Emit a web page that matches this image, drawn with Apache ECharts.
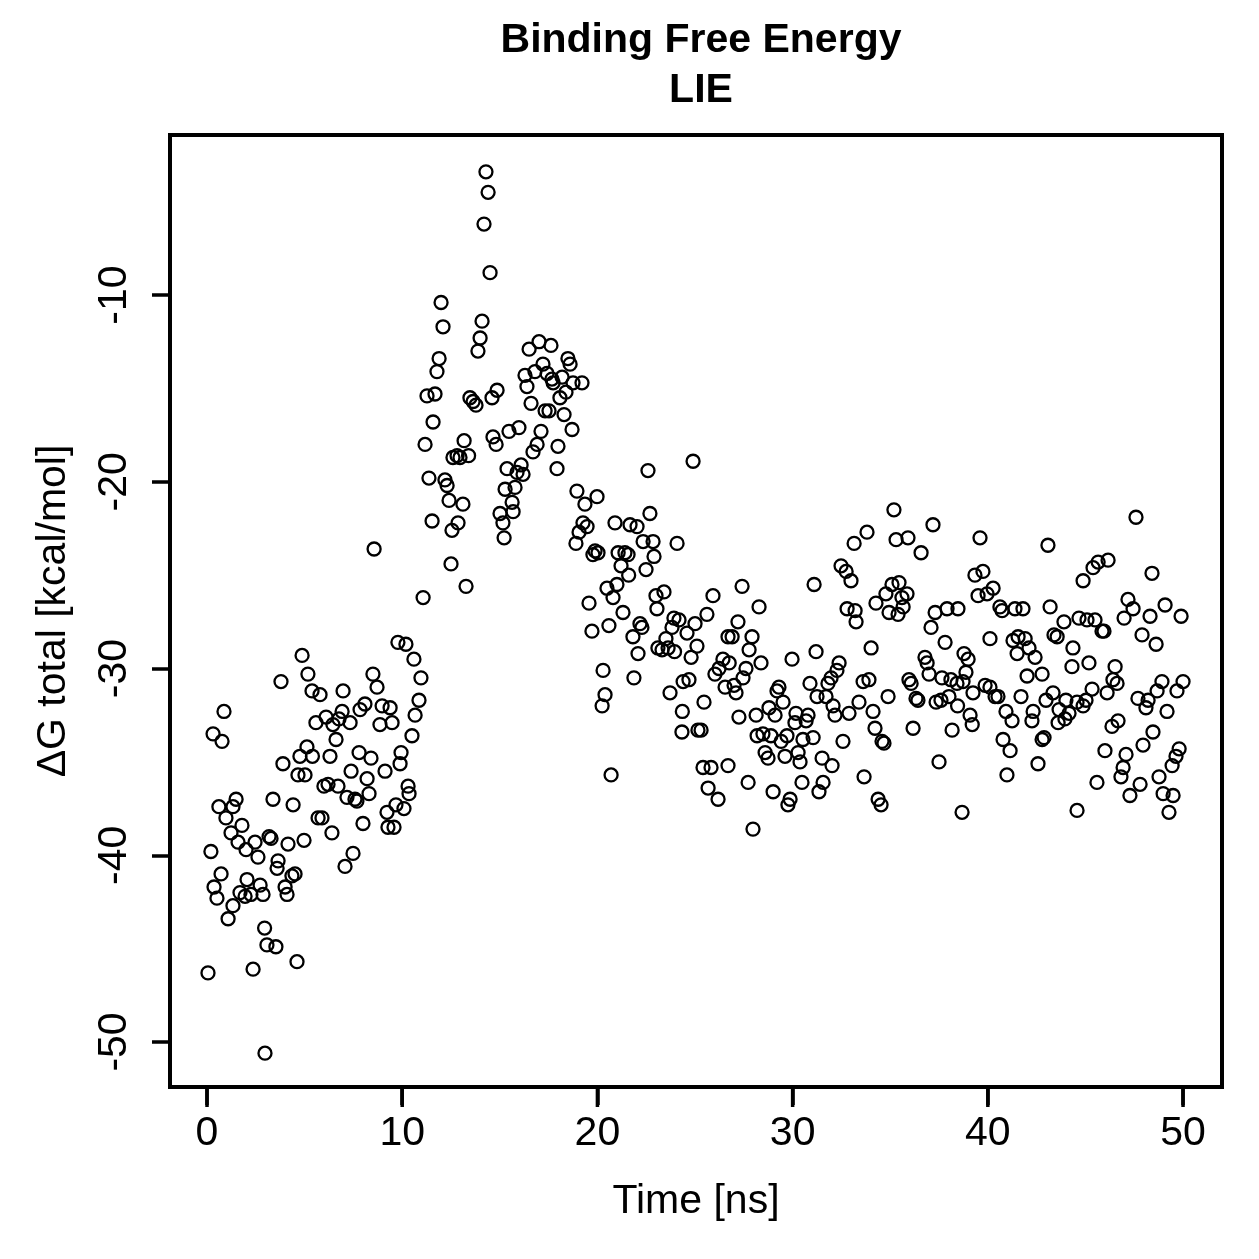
<!DOCTYPE html>
<html>
<head>
<meta charset="utf-8">
<script src="https://cdn.jsdelivr.net/npm/echarts@6/dist/echarts.min.js"></script>
<style>
  html, body { margin: 0; padding: 0; background: #fff; }
  #main { width: 1259px; height: 1259px; }
</style>
</head>
<body>
<div id="main"></div>
<script>
// tick positions
const xTicks = [0, 10, 20, 30, 40, 50];
const yTicks = [-50, -40, -30, -20, -10];
const xMin = -1.896, xMax = 51.996;
const yMin = -52.41, yMax = -1.43;

// [time (ns), dG total (kcal/mol)]
const seg0to5 = [[4.87,-29.3],[3.79,-30.7],[5.17,-30.3],[5.38,-31.2],[0.87,-32.3],[0.31,-33.5],[0.77,-33.9],[3.89,-35.1],[4.76,-34.7],[5.12,-34.2],[4.66,-35.7],[5.02,-35.7],[1.49,-37.0],[0.61,-37.4],[1.33,-37.4],[0.97,-38.0],[3.38,-37.0],[4.41,-37.3],[1.79,-38.4],[1.23,-38.8],[1.59,-39.3],[3.18,-39.0],[3.28,-39.1],[2.46,-39.3],[2.0,-39.7],[4.15,-39.4],[4.97,-39.2],[0.2,-39.8],[2.61,-40.1],[3.64,-40.3],[3.59,-40.7],[0.72,-41.0],[2.05,-41.3],[2.72,-41.6],[1.69,-42.0],[1.95,-42.2],[2.25,-42.1],[2.87,-42.1],[0.36,-41.7],[0.51,-42.3],[1.33,-42.7],[1.08,-43.4],[4.0,-41.7],[4.35,-41.1],[4.51,-41.0],[4.1,-42.1],[2.95,-43.9],[3.07,-44.8],[3.53,-44.9],[4.61,-45.7],[0.05,-46.3],[2.36,-46.1],[2.97,-50.6]];

const seg5to11 = [[5.79,-31.4],[6.97,-31.2],[8.5,-30.3],[8.71,-31.0],[9.78,-28.6],[10.19,-28.7],[10.6,-29.5],[10.96,-30.5],[10.86,-31.7],[10.66,-32.5],[10.5,-33.6],[9.94,-34.5],[9.89,-35.1],[9.12,-35.5],[10.3,-36.3],[10.35,-36.7],[10.09,-37.5],[9.68,-37.3],[9.22,-37.7],[9.27,-38.5],[9.58,-38.5],[7.99,-38.3],[8.3,-36.7],[8.2,-35.9],[7.79,-34.5],[8.4,-34.8],[7.38,-35.5],[8.09,-31.9],[7.84,-32.2],[8.97,-32.0],[9.38,-32.1],[8.86,-33.0],[9.48,-32.9],[6.92,-32.3],[6.76,-32.7],[7.33,-32.9],[6.45,-33.0],[6.1,-32.6],[5.58,-32.9],[6.61,-33.8],[6.3,-34.7],[5.4,-34.7],[5.99,-36.3],[6.2,-36.2],[6.71,-36.3],[7.17,-36.9],[7.58,-37.0],[7.68,-37.1],[5.69,-38.0],[5.89,-38.0],[6.4,-38.8],[7.48,-39.9],[7.07,-40.6],[8.56,-23.6]];

const seg11to15 = [[14.29,-3.4],[14.4,-4.5],[14.19,-6.2],[14.5,-8.8],[11.99,-10.4],[12.09,-11.7],[14.09,-11.4],[13.99,-12.3],[13.88,-13.0],[11.89,-13.4],[11.78,-14.1],[11.27,-15.4],[11.68,-15.3],[13.47,-15.5],[13.63,-15.7],[13.78,-15.9],[14.6,-15.5],[14.86,-15.1],[11.58,-16.8],[11.17,-18.0],[13.17,-17.8],[12.81,-18.6],[12.6,-18.7],[12.96,-18.7],[13.4,-18.6],[14.65,-17.6],[14.81,-18.0],[11.37,-19.8],[12.19,-19.9],[12.3,-20.2],[12.4,-21.0],[13.11,-21.2],[11.53,-22.1],[12.86,-22.2],[12.55,-22.6],[12.5,-24.4],[13.27,-25.6],[11.07,-26.2],[15.01,-21.7]];

const seg15to20 = [[17.01,-12.5],[16.5,-12.9],[17.62,-12.7],[18.49,-13.4],[18.6,-13.7],[17.21,-13.7],[16.8,-14.1],[16.29,-14.3],[17.42,-14.2],[17.67,-14.5],[17.73,-14.7],[18.19,-14.4],[18.75,-14.7],[19.21,-14.7],[16.39,-14.9],[18.39,-15.2],[18.08,-15.5],[16.6,-15.8],[17.32,-16.2],[17.52,-16.2],[18.29,-16.4],[18.7,-17.2],[17.11,-17.3],[15.98,-17.1],[15.47,-17.3],[17.98,-18.1],[16.91,-18.0],[16.7,-18.4],[17.93,-19.3],[16.09,-19.1],[15.37,-19.3],[15.88,-19.5],[16.19,-19.6],[15.78,-20.3],[15.27,-20.4],[15.63,-21.1],[15.68,-21.6],[15.16,-22.2],[15.22,-23.0],[18.95,-20.5],[19.98,-20.8],[19.36,-21.2],[19.26,-22.2],[19.47,-22.4],[19.06,-22.7],[18.9,-23.3],[19.88,-23.7],[20.03,-23.8]];

const seg20to27 = [[24.9,-18.9],[22.59,-19.4],[22.69,-21.7],[20.9,-22.2],[21.67,-22.3],[22.03,-22.4],[22.34,-23.2],[22.85,-23.2],[24.08,-23.3],[19.77,-23.9],[21.06,-23.8],[21.41,-23.8],[21.57,-23.9],[22.9,-24.0],[21.21,-24.5],[22.49,-24.7],[21.6,-25.0],[20.49,-25.7],[21.0,-25.5],[20.8,-26.2],[23.0,-26.1],[23.41,-25.9],[25.92,-26.1],[19.57,-26.5],[23.05,-26.8],[21.31,-27.0],[25.61,-27.1],[20.59,-27.7],[19.72,-28.0],[22.18,-27.6],[22.28,-27.8],[21.82,-28.3],[23.92,-27.3],[24.18,-27.4],[23.82,-27.8],[25.0,-27.6],[24.59,-28.1],[23.51,-28.4],[23.1,-28.9],[23.31,-29.0],[23.62,-28.9],[23.95,-29.1],[25.1,-28.8],[24.8,-29.4],[22.08,-29.2],[26.69,-28.3],[20.29,-30.1],[21.87,-30.5],[26.43,-29.5],[26.23,-30.0],[26.02,-30.3],[26.54,-31.0],[23.72,-31.3],[24.39,-30.7],[24.69,-30.6],[20.39,-31.4],[20.24,-32.0],[25.46,-31.8],[24.35,-32.3],[24.33,-33.4],[25.15,-33.3],[25.31,-33.3],[20.7,-35.7],[25.41,-35.3],[25.82,-35.3],[26.69,-35.2],[25.67,-36.4],[26.18,-37.0]];

const seg27to33 = [[32.48,-24.5],[32.74,-24.8],[32.99,-25.3],[27.41,-25.6],[31.1,-25.5],[28.28,-26.7],[32.79,-26.8],[33.2,-26.9],[33.25,-27.5],[27.2,-27.5],[26.9,-28.3],[27.92,-28.3],[27.77,-29.0],[31.2,-29.1],[29.97,-29.5],[28.38,-29.7],[32.38,-29.7],[26.75,-29.7],[27.61,-30.0],[27.46,-30.5],[32.27,-30.1],[31.97,-30.5],[31.81,-30.8],[30.89,-30.8],[27.0,-30.9],[27.1,-31.3],[29.3,-31.0],[29.2,-31.2],[31.25,-31.5],[31.71,-31.5],[29.51,-31.8],[32.07,-32.0],[33.4,-31.8],[28.79,-32.1],[27.25,-32.6],[28.13,-32.5],[29.1,-32.5],[30.17,-32.4],[30.79,-32.5],[32.17,-32.5],[32.89,-32.4],[30.12,-32.9],[30.69,-32.8],[28.18,-33.6],[28.48,-33.5],[28.89,-33.6],[29.71,-33.6],[29.41,-33.9],[30.53,-33.8],[31.05,-33.7],[32.58,-33.9],[28.59,-34.5],[28.74,-34.8],[29.61,-34.7],[30.28,-34.5],[30.38,-35.0],[31.51,-34.8],[32.02,-35.2],[27.72,-36.1],[29.0,-36.6],[30.48,-36.1],[31.56,-36.1],[31.35,-36.6],[29.87,-37.0],[29.76,-37.3],[27.97,-38.6]];

const seg33to40 = [[35.19,-21.5],[37.19,-22.3],[33.81,-22.7],[35.3,-23.1],[35.91,-23.0],[33.15,-23.3],[39.6,-23.0],[36.58,-23.8],[39.34,-25.0],[39.75,-24.8],[35.45,-25.4],[35.09,-25.5],[34.78,-26.0],[35.86,-26.0],[35.6,-26.2],[35.66,-26.7],[34.94,-27.0],[35.4,-27.1],[34.27,-26.5],[39.5,-26.1],[39.96,-26.0],[37.91,-26.8],[38.47,-26.8],[37.3,-27.0],[37.09,-27.8],[40.11,-28.4],[37.81,-28.6],[34.02,-28.9],[36.78,-29.4],[36.89,-29.7],[38.78,-29.2],[38.99,-29.5],[36.99,-30.3],[38.88,-30.2],[37.65,-30.5],[38.11,-30.6],[38.42,-30.8],[35.96,-30.6],[36.07,-30.8],[33.61,-30.7],[33.91,-30.6],[38.73,-30.7],[39.24,-31.3],[39.86,-30.9],[38.01,-31.5],[37.6,-31.7],[37.35,-31.8],[36.32,-31.6],[36.42,-31.7],[38.45,-32.0],[34.89,-31.5],[34.12,-32.3],[39.09,-32.5],[39.2,-33.0],[34.22,-33.2],[36.17,-33.2],[38.17,-33.3],[34.58,-33.9],[34.68,-34.0],[37.5,-35.0],[33.66,-35.8],[34.38,-37.0],[34.53,-37.3],[38.68,-37.7]];

const seg40to46 = [[43.08,-23.4],[46.16,-24.2],[45.65,-24.3],[45.39,-24.6],[44.88,-25.3],[40.27,-25.7],[40.62,-26.7],[40.73,-26.9],[41.39,-26.8],[41.8,-26.8],[43.19,-26.7],[44.67,-27.3],[45.08,-27.4],[45.49,-27.4],[45.85,-28.0],[45.95,-28.0],[43.9,-27.5],[43.39,-28.2],[43.55,-28.3],[44.36,-28.9],[41.29,-28.5],[41.55,-28.3],[41.91,-28.4],[42.11,-28.9],[41.5,-29.2],[42.42,-29.4],[44.31,-29.9],[45.18,-29.7],[42.78,-30.3],[42.01,-30.4],[43.34,-31.3],[45.34,-31.1],[40.11,-31.0],[40.37,-31.5],[40.52,-31.5],[41.7,-31.5],[42.98,-31.7],[44.0,-31.7],[44.57,-31.8],[45.03,-31.7],[44.88,-32.0],[43.65,-32.2],[44.16,-32.4],[42.32,-32.3],[42.26,-32.8],[40.93,-32.3],[41.24,-32.8],[43.6,-32.9],[43.95,-32.7],[42.78,-33.8],[42.88,-33.7],[40.78,-33.8],[41.14,-34.4],[42.57,-35.1],[40.98,-35.7],[45.59,-36.1],[44.57,-37.6]];

const seg46to50 = [[47.59,-21.9],[48.41,-24.9],[47.18,-26.3],[47.44,-26.8],[49.08,-26.6],[46.98,-27.3],[48.31,-27.2],[49.9,-27.2],[47.9,-28.2],[48.62,-28.7],[46.52,-29.9],[46.41,-30.6],[46.62,-30.8],[46.11,-31.3],[48.92,-30.7],[48.67,-31.2],[50.0,-30.7],[49.69,-31.2],[47.69,-31.6],[48.21,-31.7],[48.1,-32.1],[49.18,-32.3],[46.67,-32.8],[46.36,-33.1],[48.46,-33.4],[47.95,-34.1],[46.0,-34.4],[47.08,-34.6],[49.8,-34.3],[49.64,-34.7],[49.44,-35.2],[46.93,-35.3],[46.82,-35.8],[48.77,-35.8],[47.8,-36.2],[47.28,-36.8],[48.98,-36.7],[49.49,-36.8],[49.28,-37.7]];

const points = [].concat(seg0to5, seg5to11, seg11to15, seg15to20, seg20to27,
  seg27to33, seg33to40, seg40to46, seg46to50);

const chart = echarts.init(document.getElementById('main'));
const font = 'Liberation Sans';

const option = {
  animation: false,
  title: {
    text: 'Binding Free Energy\nLIE',
    left: 696,
    top: 11,
    textAlign: 'center',
    textStyle: { fontFamily: font, fontSize: 41, fontWeight: 'bold', lineHeight: 50, color: '#000' }
  },
  grid: {
    left: 170, top: 135, width: 1052, height: 952,
    show: true, borderColor: '#000', borderWidth: 4
  },
  graphic: [{
    type: 'text',
    x: 696,
    y: 1202,
    style: { text: 'Time [ns]', fontFamily: font, fontSize: 41, fill: '#000', align: 'center', verticalAlign: 'middle' },
    silent: true
  }],
  xAxis: {
    type: 'value',
    min: xMin, max: xMax,
    splitLine: { show: false },
    axisLine: { show: true, onZero: false, lineStyle: { color: '#000', width: 4 } },
    axisTick: { show: true, length: 18, customValues: xTicks, lineStyle: { color: '#000', width: 3.5 } },
    axisLabel: { customValues: xTicks, fontSize: 41, fontFamily: font, color: '#000', margin: 26 }
  },
  yAxis: {
    type: 'value',
    min: yMin, max: yMax,
    splitLine: { show: false },
    axisLine: { show: true, onZero: false, lineStyle: { color: '#000', width: 4 } },
    axisTick: { show: true, length: 18, customValues: yTicks, lineStyle: { color: '#000', width: 3.5 } },
    axisLabel: { customValues: yTicks, rotate: 90, fontSize: 41, fontFamily: font, color: '#000', margin: 35 },
    name: 'ΔG total [kcal/mol]',
    nameLocation: 'middle',
    nameGap: 96,
    nameTextStyle: { fontSize: 41, fontFamily: font, color: '#000' }
  },
  series: [{
    type: 'scatter',
    data: points,
    symbol: 'circle',
    symbolSize: 13,
    silent: true,
    itemStyle: { color: 'rgba(0,0,0,0)', borderColor: '#000', borderWidth: 2.3, opacity: 1 }
  }, {
    // x tick marks hanging below the box, placed on the x scale
    type: 'scatter',
    data: xTicks.map(function (v) { return [v, yMin]; }),
    symbol: 'rect',
    symbolSize: [3.5, 20],
    symbolOffset: [0, 10],
    clip: false,
    silent: true,
    z: 5,
    itemStyle: { color: '#000', borderWidth: 0, opacity: 1 }
  }]
};

chart.setOption(option);
</script>
</body>
</html>
